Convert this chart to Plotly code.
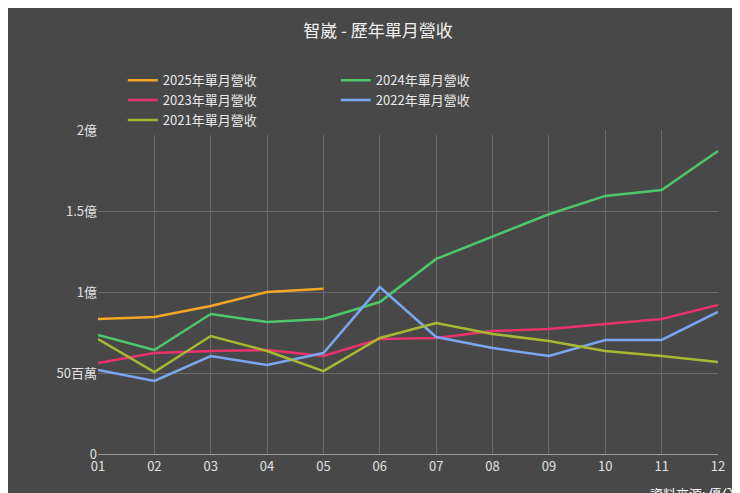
import plotly.graph_objects as go

months = ["01","02","03","04","05","06","07","08","09","10","11","12"]
s2025 = [0.833e8,0.846e8,0.914e8,1.0e8,1.02e8]
s2024 = [0.735e8,0.642e8,0.864e8,0.815e8,0.833e8,0.938e8,1.204e8,1.34e8,1.48e8,1.593e8,1.63e8,1.87e8]
s2023 = [0.562e8,0.623e8,0.636e8,0.642e8,0.605e8,0.71e8,0.716e8,0.759e8,0.772e8,0.802e8,0.833e8,0.92e8]
s2022 = [0.519e8,0.451e8,0.605e8,0.549e8,0.623e8,1.03e8,0.722e8,0.654e8,0.605e8,0.704e8,0.704e8,0.877e8]
s2021 = [0.71e8,0.506e8,0.728e8,0.636e8,0.512e8,0.716e8,0.809e8,0.741e8,0.698e8,0.636e8,0.605e8,0.568e8]
ytickvals = [0, 0.5e8, 1e8, 1.5e8, 2e8]
yticktext = ["0", "50百萬", "1億", "1.5億", "2億"]

series = [("2025年單月營收", s2025, "#f5a623"), ("2024年單月營收", s2024, "#4cc76a"),
          ("2023年單月營收", s2023, "#e8336b"), ("2022年單月營收", s2022, "#7aa7f0"),
          ("2021年單月營收", s2021, "#a8b832")]
fig = go.Figure()
for name, vals, c in series:
    fig.add_trace(go.Scatter(x=months[:len(vals)], y=vals, name=name, mode="lines",
                             line=dict(color=c, width=2.5)))
font = "Noto Sans CJK TC"
fig.update_layout(
    width=740, height=493, paper_bgcolor="#484848", plot_bgcolor="#484848",
    font=dict(family=font, color="#e8e8e8", size=13),
    title=dict(text="智崴 - 歷年單月營收", x=0.5, y=0.965, xanchor="center", font=dict(size=17, color="#f0f0f0")),
    legend=dict(orientation="h", x=0.04, y=1.2, xanchor="left", yanchor="top",
                font=dict(size=13, color="#e8e8e8"), entrywidth=168, traceorder="normal"),
    margin=dict(l=90, r=30, t=122, b=47),
    xaxis=dict(showgrid=True, gridcolor="#6a6a6a", showline=True, linecolor="#9a9a9a",
               tickfont=dict(size=13, color="#e0e0e0"), ticks=""),
    yaxis=dict(range=[0, 2e8], tickvals=ytickvals, ticktext=yticktext, showgrid=True,
               gridcolor="#6a6a6a", zeroline=False, tickfont=dict(size=13, color="#e0e0e0"), ticks=""),
    annotations=[dict(text="資料來源: 優分析", x=1, y=0, xref="paper", yref="paper", xanchor="right",
                      yanchor="top", yshift=-28, xshift=32, showarrow=False, font=dict(size=13, color="#ffffff"))],
)
fig.write_html("out.html")
